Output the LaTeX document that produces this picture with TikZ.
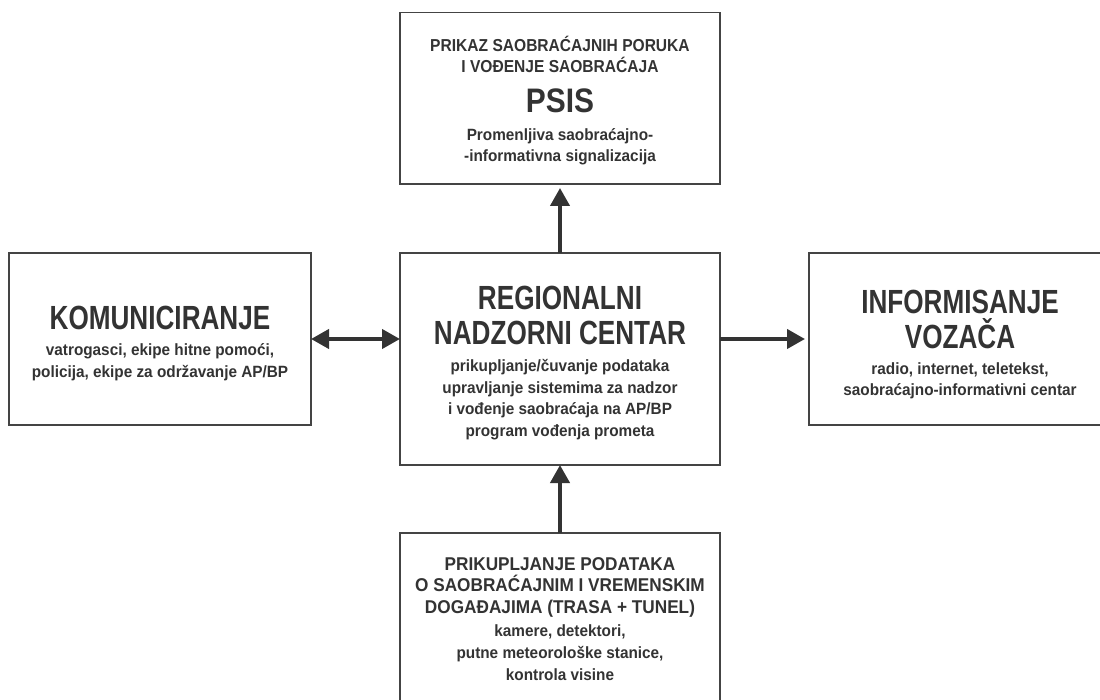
\documentclass[tikz,border=0pt]{standalone}
\usepackage{fontspec}
\usetikzlibrary{arrows.meta}
\newfontfamily\ttlfont[FakeStretch=0.78]{Liberation Sans}
\newfontfamily\psisfont[FakeStretch=0.88]{Liberation Sans}
\newfontfamily\capfont[FakeStretch=0.9]{Liberation Sans}
\newfontfamily\bcapfont[FakeStretch=0.93]{Liberation Sans}
\newfontfamily\smlfont[FakeStretch=0.94]{Liberation Sans}
\newcommand\txTitle[1]{{\ttlfont\bfseries\fontsize{33.5}{33.5}\selectfont #1}}
\newcommand\txPsis[1]{{\psisfont\bfseries\fontsize{34}{34}\selectfont #1}}
\newcommand\txCap[1]{{\capfont\bfseries\fontsize{17.3}{17.3}\selectfont #1}}
\newcommand\txBcap[1]{{\bcapfont\bfseries\fontsize{18.5}{18.5}\selectfont #1}}
\newcommand\txSml[1]{{\smlfont\bfseries\fontsize{16.3}{16.3}\selectfont #1}}
\newcommand\linestack[1]{\vtop{\baselineskip=0pt\lineskip=0pt\lineskiplimit=-\maxdimen\halign{\hfil##\hfil\cr#1\crcr}}}
\newcommand\nl[1]{\cr\noalign{\vskip#1pt}}
\definecolor{ink}{HTML}{333333}
\definecolor{edge}{HTML}{444444}
\begin{document}
\begin{tikzpicture}[x=1pt,y=-1pt,
  box/.style={draw=edge, line width=1.6pt, fill=white, minimum width=#1, inner sep=0pt, outer sep=0pt, anchor=north west},
  txt/.style={inner sep=0pt, anchor=base, text=ink},
  arr/.style={draw=ink, line width=4pt, -{Triangle[length=18pt,width=19pt]}},
  darr/.style={draw=ink, line width=4pt, {Triangle[length=18pt,width=19pt]}-{Triangle[length=18pt,width=19pt]}}]
\fill[white] (0,0) rectangle (1100,700);
\useasboundingbox (0,0) rectangle (1100,700);
% boxes
\node[box=320, minimum height=171.3] (top) at (400,12.7) {};
\node[box=320, minimum height=212] (cen) at (400,253) {};
\node[box=302, minimum height=172] (lft) at (9,253) {};
\node[box=302, minimum height=172] (rgt) at (809,253) {};
\node[box=320, minimum height=180] (bot) at (400,533) {};
% texts
\node[txt] (toptxt) at (560,52) {\linestack{\txCap{PRIKAZ SAOBRAĆAJNIH PORUKA}\nl{21}\txCap{I VOĐENJE SAOBRAĆAJA}\nl{39.5}\txPsis{PSIS}\nl{28.5}\txSml{Promenljiva saobraćajno-}\nl{20.5}\txSml{-informativna signalizacija}}};
\node[txt] (centxt) at (560,310) {\linestack{\txTitle{REGIONALNI}\nl{35}\txTitle{NADZORNI CENTAR}\nl{26.7}\txSml{prikupljanje/čuvanje podataka}\nl{21.5}\txSml{upravljanje sistemima za nadzor}\nl{21.5}\txSml{i vođenje saobraćaja na AP/BP}\nl{21.5}\txSml{program vođenja prometa}}};
\node[txt] (lfttxt) at (160,329.3) {\linestack{\txTitle{KOMUNICIRANJE}\nl{26.7}\txSml{vatrogasci, ekipe hitne pomoći,}\nl{21.3}\txSml{policija, ekipe za održavanje AP/BP}}};
\node[txt] (rgttxt) at (960,313.5) {\linestack{\txTitle{INFORMISANJE}\nl{35.5}\txTitle{VOZAČA}\nl{25.5}\txSml{radio, internet, teletekst,}\nl{21.5}\txSml{saobraćajno-informativni centar}}};
\node[txt] (bottxt) at (560,570) {\linestack{\txBcap{PRIKUPLJANJE PODATAKA}\nl{21.7}\txBcap{O SAOBRAĆAJNIM I VREMENSKIM}\nl{21.6}\txBcap{DOGAĐAJIMA (TRASA + TUNEL)}\nl{23.4}\txSml{kamere, detektori,}\nl{21.7}\txSml{putne meteorološke stanice,}\nl{21.7}\txSml{kontrola visine}}};
% connectors
\draw[arr, shorten >=4pt] (cen.north) -- (top.south);
\draw[arr] (bot.north) -- (cen.south);
\draw[darr] (lft.east) -- (lft.east -| cen.west);
\draw[arr, shorten >=4pt] (cen.east |- rgt.west) -- (rgt.west);
\end{tikzpicture}
\end{document}
